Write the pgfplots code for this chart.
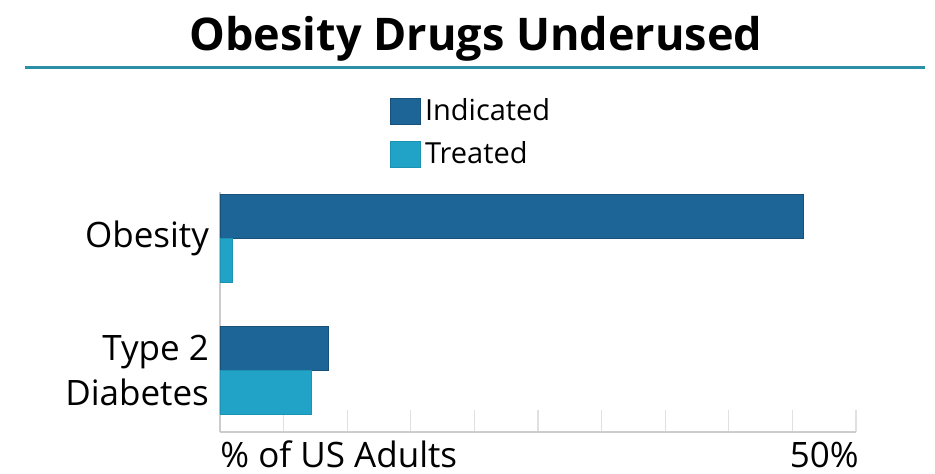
\documentclass[border=0pt]{standalone}
\usepackage{pgfplots}
\pgfplotsset{compat=1.18}
\usepackage{fontspec}
\setmainfont{Open Sans}
\definecolor{indic}{HTML}{1D6497}
\definecolor{treat}{HTML}{20A3C7}
\definecolor{rule}{HTML}{2C8FA8}
\begin{document}
\begin{tikzpicture}
\useasboundingbox (-110pt,-20.5pt) rectangle (357.5pt,216pt);
\node[anchor=base,font=\fontsize{22.5}{26}\selectfont\bfseries] at (128pt,191pt) {Obesity Drugs Underused};
\draw[rule,line width=1.5pt] (-97.5pt,182.5pt) -- (352.5pt,182.5pt);
\begin{axis}[
  at={(0,0)}, anchor=south west,
  scale only axis, width=318pt, height=120pt,
  xbar, bar width=0.333,
  xmin=0, xmax=55.556,
  ymin=-0.47, ymax=1.35,
  axis lines*=left,
  axis line style={draw=black!20, line width=0.8pt},
  xtick={0,5.556,11.111,16.667,22.222,27.778,33.333,38.889,44.444,50,55.556},
  xticklabels={},
  tick align=inside,
  xtick style={draw=black!12, line width=0.6pt},
  major tick length=11pt,
  ytick={0,1},
  yticklabels={Type 2\\Diabetes, Obesity},
  yticklabel style={align=right, font=\fontsize{17.5}{22.5}\selectfont, xshift=-2pt},
  ytick style={draw=none},
  clip=false,
  legend style={at={(0.267,1.408)}, anchor=north west, draw=none, fill=none,
    font=\fontsize{14.5}{16}\selectfont, row sep=5pt, inner sep=0pt,
    nodes={xshift=2pt}},
  legend cell align=left,
  legend image code/.code={\fill[#1] (0pt,-6.5pt) rectangle (15pt,6.5pt);},
]
\addplot[fill=indic, draw=indic!80!black, bar shift=0.1667] coordinates {(51.0,1) (9.5,0)};
\addlegendentry{Indicated}
\addplot[fill=treat, draw=treat!90!black, bar shift=-0.1667] coordinates {(1.05,1) (7.95,0)};
\addlegendentry{Treated}
\node[anchor=base west, font=\fontsize{17.5}{18}\selectfont, inner sep=0pt] at (rel axis cs:0,0) [yshift=-17.5pt] {\% of US Adults};
\node[anchor=base west, font=\fontsize{17.5}{18}\selectfont, inner sep=0pt] at (axis cs:50,-0.47) [yshift=-17.5pt,xshift=-1.5pt] {50\%};
\end{axis}
\end{tikzpicture}
\end{document}
